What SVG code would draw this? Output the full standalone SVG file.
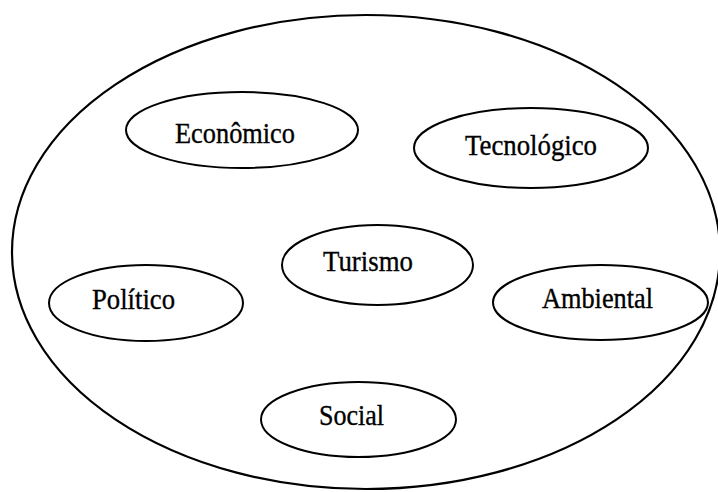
<svg xmlns="http://www.w3.org/2000/svg" width="718" height="492" viewBox="0 0 718 492">
<style>
.outer{fill:none;stroke:#000;stroke-width:2.2}
.node ellipse{fill:none;stroke:#000;stroke-width:2}
.node text{font-family:"Liberation Serif","Times New Roman",serif;font-size:29.5px;fill:#000;stroke:#000;stroke-width:0.35;text-anchor:middle}
</style>
<rect width="718" height="492" fill="#fff"/>
<g id="ambiente">
<ellipse class="outer" cx="366" cy="252" rx="354" ry="237"/>
</g>
<g id="connectors"></g>
<g id="economico" class="node">
<ellipse cx="242" cy="130" rx="116" ry="38"/>
<text x="235" y="143" textLength="120" lengthAdjust="spacingAndGlyphs">Econômico</text>
</g>
<g id="tecnologico" class="node">
<ellipse cx="531" cy="148" rx="117" ry="40"/>
<text x="531" y="155" textLength="132" lengthAdjust="spacingAndGlyphs">Tecnológico</text>
</g>
<g id="turismo" class="node">
<ellipse cx="377.5" cy="265" rx="95.5" ry="40"/>
<text x="368" y="271" textLength="90" lengthAdjust="spacingAndGlyphs">Turismo</text>
</g>
<g id="politico" class="node">
<ellipse cx="146" cy="303" rx="97" ry="38"/>
<text x="133.5" y="309" textLength="83" lengthAdjust="spacingAndGlyphs">Político</text>
</g>
<g id="ambiental" class="node">
<ellipse cx="600.5" cy="302.5" rx="107.5" ry="37.5"/>
<text x="597.5" y="308" textLength="111" lengthAdjust="spacingAndGlyphs">Ambiental</text>
</g>
<g id="social" class="node">
<ellipse cx="358.5" cy="419.5" rx="97.5" ry="37.5"/>
<text x="351.5" y="425" textLength="65" lengthAdjust="spacingAndGlyphs">Social</text>
</g>
</svg>
